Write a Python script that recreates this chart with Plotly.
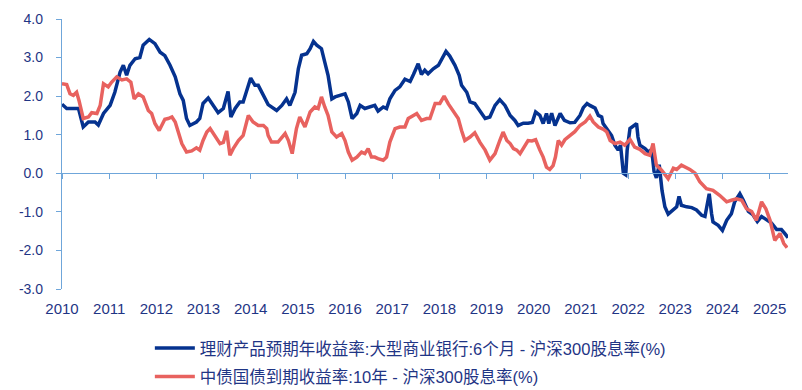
import plotly.graph_objects as go

# ---- data (decimal years, % values) ----
blue_name = "理财产品预期年收益率:大型商业银行:6个月 - 沪深300股息率(%)"
red_name = "中债国债到期收益率:10年 - 沪深300股息率(%)"

blue_t = [2010.00, 2010.10, 2010.35, 2010.45, 2010.56, 2010.70, 2010.77, 2010.88, 2011.02, 2011.12,
          2011.23, 2011.30, 2011.37, 2011.44, 2011.55, 2011.65, 2011.72, 2011.85, 2011.97, 2012.08,
          2012.18, 2012.29, 2012.40, 2012.50, 2012.57, 2012.64, 2012.71, 2012.78, 2012.85, 2012.92,
          2012.99, 2013.10, 2013.21, 2013.31, 2013.42, 2013.52, 2013.58, 2013.67, 2013.77, 2013.84,
          2013.91, 2014.00, 2014.09, 2014.16, 2014.27, 2014.37, 2014.55, 2014.66, 2014.76, 2014.83,
          2014.94, 2015.01, 2015.08, 2015.19, 2015.26, 2015.33, 2015.40, 2015.50, 2015.57, 2015.64,
          2015.72, 2015.79, 2015.89, 2016.00, 2016.07, 2016.15, 2016.25, 2016.32, 2016.42, 2016.53,
          2016.63, 2016.70, 2016.81, 2016.88, 2016.95, 2017.06, 2017.16, 2017.27, 2017.38, 2017.45,
          2017.55, 2017.62, 2017.69, 2017.76, 2017.87, 2017.98, 2018.05, 2018.14, 2018.22, 2018.33,
          2018.42, 2018.47, 2018.58, 2018.65, 2018.75, 2018.86, 2018.97, 2019.07, 2019.18, 2019.28,
          2019.39, 2019.50, 2019.60, 2019.67, 2019.78, 2019.88, 2019.97, 2020.04, 2020.13, 2020.20,
          2020.27, 2020.32, 2020.38, 2020.45, 2020.56, 2020.65, 2020.77, 2020.87, 2020.98, 2021.05,
          2021.13, 2021.19, 2021.30, 2021.37, 2021.44, 2021.47, 2021.55, 2021.65, 2021.72, 2021.79,
          2021.84, 2021.90, 2021.95, 2021.98, 2022.04, 2022.11, 2022.18, 2022.21, 2022.25, 2022.36,
          2022.43, 2022.50, 2022.55, 2022.60, 2022.66, 2022.72, 2022.78, 2022.85, 2022.96, 2023.03,
          2023.08, 2023.13, 2023.24, 2023.35, 2023.45, 2023.56, 2023.63, 2023.68, 2023.72, 2023.77,
          2023.80, 2023.91, 2024.00, 2024.09, 2024.19, 2024.26, 2024.37, 2024.44, 2024.55, 2024.65,
          2024.74, 2024.83, 2024.94, 2025.04, 2025.15, 2025.25, 2025.32, 2025.39]
blue_v = [1.79, 1.68, 1.68, 1.20, 1.33, 1.33, 1.25, 1.55, 1.76, 2.10,
          2.62, 2.80, 2.54, 2.80, 2.97, 3.00, 3.32, 3.47, 3.36, 3.14,
          3.05, 2.80, 2.50, 2.06, 1.89, 1.42, 1.24, 1.28, 1.33, 1.42,
          1.81, 1.95, 1.76, 1.57, 1.68, 2.12, 1.46, 1.68, 1.85, 1.85,
          2.12, 2.47, 2.28, 2.28, 2.02, 1.78, 1.63, 1.76, 1.93, 1.76,
          2.10, 2.71, 3.06, 3.10, 3.23, 3.42, 3.32, 3.23, 2.88, 2.54,
          1.93, 1.98, 2.02, 2.06, 1.85, 1.42, 1.55, 1.76, 1.68, 1.72,
          1.76, 1.61, 1.72, 1.68, 1.93, 2.15, 2.24, 2.44, 2.38, 2.56,
          2.84, 2.56, 2.67, 2.58, 2.71, 2.80, 2.97, 3.16, 3.04, 2.80,
          2.54, 2.28, 2.10, 1.85, 1.81, 1.63, 1.42, 1.46, 1.76, 1.91,
          1.76, 1.50, 1.37, 1.24, 1.30, 1.30, 1.32, 1.59, 1.50, 1.29,
          1.55, 1.29, 1.56, 1.24, 1.55, 1.37, 1.31, 1.32, 1.50, 1.70,
          1.81, 1.76, 1.69, 1.50, 1.46, 1.29, 1.16, 0.98, 0.73, 0.60,
          0.73, 0.00, -0.04, 0.60, 1.16, 1.22, 1.29, 0.94, 0.73, 0.64,
          0.55, 0.62, 0.05, -0.12, 0.22, -0.45, -0.87, -1.06, -0.96, -0.87,
          -0.60, -0.83, -0.87, -0.89, -0.95, -1.09, -1.12, -0.79, -0.53, -1.05,
          -1.26, -1.35, -1.48, -1.22, -1.05, -0.74, -0.53, -0.69, -0.99, -1.08,
          -1.25, -1.12, -1.21, -1.29, -1.46, -1.46, -1.56, -1.67]

red_t = [2010.00, 2010.10, 2010.17, 2010.24, 2010.31, 2010.36, 2010.45, 2010.56, 2010.63, 2010.74,
         2010.81, 2010.88, 2010.98, 2011.05, 2011.16, 2011.27, 2011.37, 2011.46, 2011.53, 2011.62,
         2011.72, 2011.83, 2011.90, 2011.97, 2012.06, 2012.18, 2012.25, 2012.33, 2012.40, 2012.47,
         2012.54, 2012.64, 2012.75, 2012.85, 2012.92, 2012.99, 2013.07, 2013.14, 2013.24, 2013.35,
         2013.42, 2013.49, 2013.56, 2013.63, 2013.74, 2013.84, 2013.95, 2014.05, 2014.16, 2014.27,
         2014.34, 2014.37, 2014.44, 2014.58, 2014.73, 2014.80, 2014.88, 2014.97, 2015.04, 2015.15,
         2015.26, 2015.36, 2015.43, 2015.50, 2015.57, 2015.64, 2015.72, 2015.82, 2015.93, 2016.00,
         2016.07, 2016.15, 2016.25, 2016.35, 2016.42, 2016.49, 2016.56, 2016.63, 2016.70, 2016.81,
         2016.88, 2016.95, 2017.06, 2017.16, 2017.27, 2017.34, 2017.45, 2017.52, 2017.62, 2017.73,
         2017.80, 2017.91, 2018.01, 2018.10, 2018.19, 2018.29, 2018.40, 2018.47, 2018.54, 2018.65,
         2018.75, 2018.86, 2018.97, 2019.07, 2019.18, 2019.28, 2019.35, 2019.43, 2019.50, 2019.57,
         2019.64, 2019.71, 2019.78, 2019.88, 2019.96, 2020.04, 2020.13, 2020.20, 2020.27, 2020.34,
         2020.41, 2020.46, 2020.52, 2020.59, 2020.66, 2020.77, 2020.87, 2020.98, 2021.09, 2021.19,
         2021.26, 2021.37, 2021.48, 2021.55, 2021.62, 2021.72, 2021.83, 2021.93, 2022.04, 2022.14,
         2022.25, 2022.36, 2022.46, 2022.53, 2022.60, 2022.71, 2022.85, 2022.96, 2023.03, 2023.13,
         2023.24, 2023.31, 2023.42, 2023.52, 2023.66, 2023.80, 2023.94, 2024.09, 2024.19, 2024.30,
         2024.41, 2024.51, 2024.62, 2024.72, 2024.83, 2024.92, 2025.01, 2025.11, 2025.22, 2025.30,
         2025.37]
red_v = [2.32, 2.30, 2.06, 2.02, 2.10, 1.89, 1.42, 1.46, 1.57, 1.55,
         1.76, 2.32, 2.24, 2.36, 2.50, 2.42, 2.45, 2.36, 1.93, 2.06,
         1.98, 1.63, 1.55, 1.29, 1.11, 1.40, 1.42, 1.46, 1.33, 1.07,
         0.77, 0.55, 0.58, 0.66, 0.60, 0.85, 1.07, 1.16, 0.98, 0.77,
         0.80, 1.10, 0.47, 0.64, 0.85, 0.98, 1.50, 1.33, 1.24, 1.24,
         1.16, 0.98, 0.81, 0.81, 1.03, 0.85, 0.51, 1.16, 1.46, 1.20,
         1.59, 1.72, 1.68, 1.98, 1.72, 1.50, 1.07, 0.94, 1.03, 0.85,
         0.55, 0.34, 0.42, 0.55, 0.51, 0.64, 0.42, 0.42, 0.38, 0.34,
         0.42, 0.81, 1.16, 1.20, 1.20, 1.42, 1.50, 1.55, 1.37, 1.42,
         1.42, 1.81, 1.81, 2.00, 1.80, 1.63, 1.42, 1.11, 0.85, 0.94,
         1.05, 0.80, 0.60, 0.34, 0.51, 0.85, 1.07, 0.85, 0.77, 0.64,
         0.60, 0.51, 0.66, 0.85, 0.84, 0.87, 0.60, 0.42, 0.16, 0.10,
         0.20, 0.42, 0.85, 0.73, 0.87, 0.98, 1.08, 1.24, 1.33, 1.48,
         1.33, 1.20, 1.14, 1.07, 0.85, 0.77, 0.81, 0.73, 0.88, 0.68,
         0.62, 0.51, 0.47, 0.77, 0.21, 0.08, -0.14, 0.13, 0.10, 0.21,
         0.15, 0.10, 0.00, -0.22, -0.40, -0.44, -0.57, -0.74, -0.70, -0.66,
         -0.70, -0.92, -0.99, -1.22, -0.74, -0.92, -1.22, -1.74, -1.56, -1.82,
         -1.93]

year_ticks = list(range(2010, 2026))
y_ticks = [4.0, 3.0, 2.0, 1.0, 0.0, -1.0, -2.0, -3.0]
y_range = [-3.0, 4.0]
x_range = [2010.0, 2025.39]

BLUE = "#05328f"
RED = "#e8625f"
AXIS = "#6fa6da"
TEXT = "#1f3585"
FONT = "Liberation Sans, Arial, Noto Sans CJK SC, sans-serif"

fig = go.Figure()
fig.add_trace(go.Scatter(x=blue_t, y=blue_v, mode="lines", name=blue_name,
                         line=dict(color=BLUE, width=3.5), legendgroup="a",
                         xaxis="x", yaxis="y"))
fig.add_trace(go.Scatter(x=red_t, y=red_v, mode="lines", name=red_name,
                         line=dict(color=RED, width=3.5), legendgroup="b",
                         xaxis="x2", yaxis="y"))

# the page body has an 8px default margin, so the figure is 8px smaller
fig.update_layout(
    width=794, height=382,
    margin=dict(l=54, r=14, t=11, b=101, autoexpand=False),
    paper_bgcolor="white", plot_bgcolor="white",
    font=dict(family=FONT, color=TEXT, size=14),
    showlegend=True,
    legend=dict(
        orientation="v", x=0.121, xanchor="left", y=-0.155, yanchor="top",
        font=dict(family="Liberation Sans, Noto Sans CJK SC, sans-serif", size=16.5, color=TEXT),
        tracegroupgap=4, itemwidth=40, bgcolor="rgba(0,0,0,0)",
    ),
    xaxis=dict(
        range=x_range, tickmode="array", tickvals=year_ticks,
        ticktext=[str(y) for y in year_ticks],
        showline=False, showgrid=False, zeroline=False, automargin=False,
        ticks="outside", ticklen=6, tickcolor="rgba(0,0,0,0)",
        tickfont=dict(size=15, color=TEXT), anchor="y",
    ),
    xaxis2=dict(
        range=x_range, matches="x", overlaying="x", anchor="free",
        position=(0 - y_range[0]) / (y_range[1] - y_range[0]),
        tickmode="array", tickvals=year_ticks, showticklabels=False,
        showline=True, linecolor=AXIS, linewidth=1.3, automargin=False,
        ticks="outside", ticklen=5, tickcolor=AXIS, tickwidth=1.3,
        showgrid=False, zeroline=False,
    ),
    yaxis=dict(
        range=y_range, tickmode="array", tickvals=y_ticks,
        ticktext=[f"{v:.1f}" for v in y_ticks], automargin=False,
        showline=True, linecolor=AXIS, linewidth=1.3,
        ticks="outside", ticklen=5, tickcolor=AXIS, tickwidth=1.3,
        showgrid=False, zeroline=False, ticklabelstandoff=10,
        tickfont=dict(size=14, color=TEXT),
    ),
)

fig.write_html("out.html")
